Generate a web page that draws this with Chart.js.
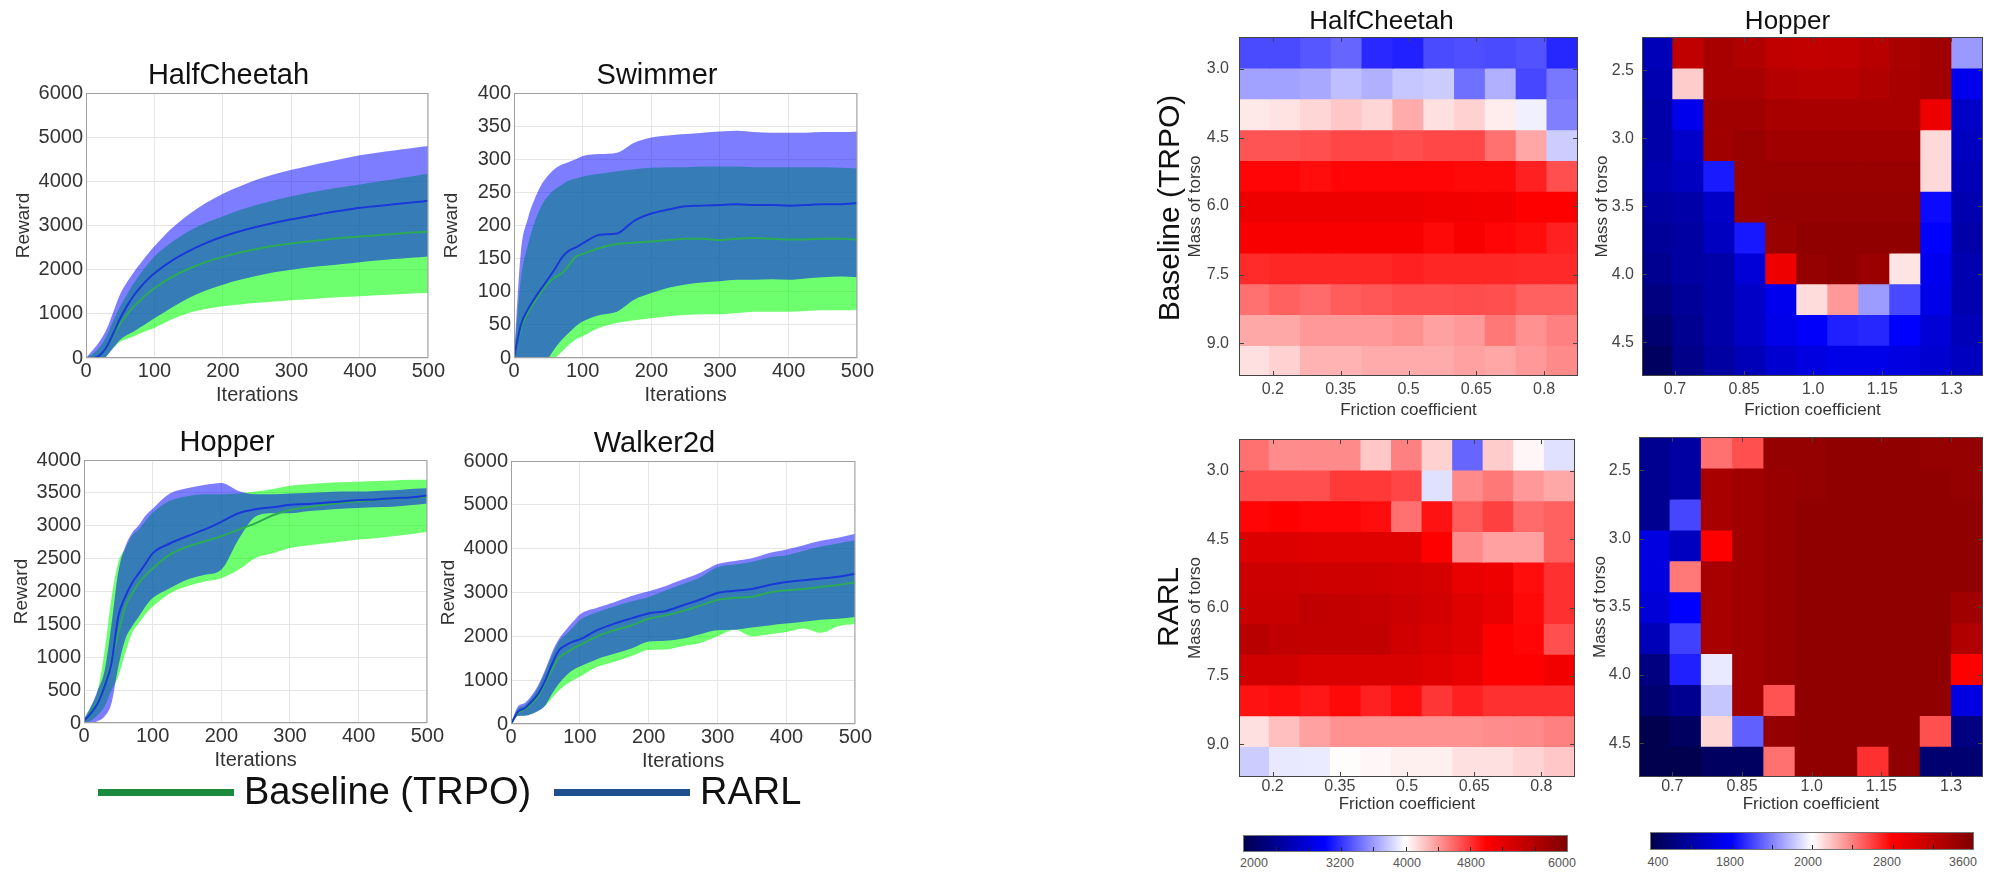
<!DOCTYPE html>
<html>
<head>
<meta charset="utf-8">
<script src="https://cdn.jsdelivr.net/npm/chart.js@4/dist/chart.umd.min.js"></script>
<style>
  body { margin: 0; background: #fff; width: 1995px; height: 873px; position: relative; overflow: hidden;
         font-family: "Liberation Sans", Arial, Helvetica, sans-serif; }
  canvas { position: absolute; }
  .lg-line { position: absolute; height: 7px; }
  .lg-text { position: absolute; font-size: 38px; line-height: 44px; color: #111; white-space: nowrap; }
  .side { position: absolute; font-size: 30px; color: #111; white-space: nowrap; transform: translate(-50%, -50%) rotate(-90deg); }
  .cbar { position: absolute; border: 1px solid #777; box-sizing: border-box;
          background: linear-gradient(to right, rgb(0,0,77) 0%, rgb(0,0,255) 25%, #fff 50%, rgb(255,0,0) 75%, rgb(128,0,0) 100%); }
  .cb-tick { position: absolute; bottom: 0; width: 1px; height: 4px; background: #222; }
  .cb-lab { position: absolute; font-size: 12.5px; color: #555; transform: translate(-50%, -50%); }
</style>
</head>
<body>

<canvas id="lcHalf" width="435" height="350" style="left:11px; top:58px"></canvas>
<canvas id="lcSwim" width="436" height="350" style="left:439px; top:58px"></canvas>
<canvas id="lcHop" width="436" height="348" style="left:9px; top:425px"></canvas>
<canvas id="lcWalk" width="437" height="348" style="left:436px; top:426px"></canvas>

<canvas id="hmHalfTrpo" width="393" height="415" style="left:1185px; top:6px"></canvas>
<canvas id="hmHopTrpo" width="391" height="415" style="left:1592px; top:6px"></canvas>
<canvas id="hmHalfRarl" width="390" height="396" style="left:1185px; top:419px"></canvas>
<canvas id="hmHopRarl" width="394" height="396" style="left:1589px; top:419px"></canvas>

<div class="lg-line" style="left:98px; top:789px; width:136px; background:#1b8a3c"></div>
<div class="lg-text" style="left:244px; top:769px">Baseline (TRPO)</div>
<div class="lg-line" style="left:554px; top:789px; width:136px; background:#1f4f8f"></div>
<div class="lg-text" style="left:700px; top:769px">RARL</div>

<div class="side" style="left:1169px; top:208px">Baseline (TRPO)</div>
<div class="side" style="left:1168px; top:607px">RARL</div>

<div class="cbar" id="cbHalf" style="left:1243px; top:835px; width:325px; height:17px"></div>
<div class="cbar" id="cbHop" style="left:1650px; top:832px; width:324px; height:18px"></div>
<div class="cb-lab" style="left:1254px; top:863px">2000</div>
<div class="cb-lab" style="left:1340px; top:863px">3200</div>
<div class="cb-lab" style="left:1407px; top:863px">4000</div>
<div class="cb-lab" style="left:1471px; top:863px">4800</div>
<div class="cb-lab" style="left:1562px; top:863px">6000</div>
<div class="cb-lab" style="left:1658px; top:862px">400</div>
<div class="cb-lab" style="left:1730px; top:862px">1800</div>
<div class="cb-lab" style="left:1808px; top:862px">2000</div>
<div class="cb-lab" style="left:1887px; top:862px">2800</div>
<div class="cb-lab" style="left:1963px; top:862px">3600</div>

<script>
// ---- learning curves (reward vs iterations) ----
const iterations = [0, 10, 20, 30, 40, 50, 60, 70, 80, 90, 100, 125, 150, 175, 200, 225, 250, 275, 300, 325, 350, 375, 400, 425, 450, 475, 500];
const iterTicks = [0, 100, 200, 300, 400, 500];

const halfTicks = [0, 1000, 2000, 3000, 4000, 5000, 6000];
const halfRarl = [0, 0, 60, 250, 560, 900, 1180, 1420, 1610, 1780, 1920, 2200, 2420, 2600, 2750, 2870, 2970, 3060, 3140, 3210, 3280, 3340, 3400, 3440, 3480, 3520, 3560];
const halfRarlHi = [0, 180, 380, 650, 1050, 1450, 1720, 1950, 2150, 2350, 2530, 2930, 3250, 3510, 3720, 3890, 4040, 4160, 4260, 4350, 4430, 4510, 4590, 4650, 4700, 4750, 4800];
const halfRarlLo = [0, -100, -100, 40, 230, 415, 520, 600, 700, 800, 900, 1140, 1360, 1530, 1660, 1770, 1860, 1940, 2000, 2050, 2090, 2130, 2170, 2210, 2240, 2270, 2300];
const halfTrpo = [0, 0, 60, 250, 520, 780, 990, 1170, 1320, 1460, 1580, 1830, 2020, 2170, 2290, 2390, 2470, 2540, 2590, 2640, 2680, 2720, 2750, 2780, 2810, 2840, 2860];
const halfTrpoHi = [0, 100, 250, 500, 850, 1170, 1450, 1700, 1920, 2120, 2300, 2620, 2870, 3060, 3210, 3350, 3470, 3570, 3660, 3740, 3810, 3870, 3930, 3990, 4050, 4110, 4170];
const halfTrpoLo = [0, -100, -100, 40, 230, 370, 430, 490, 560, 620, 680, 870, 1020, 1110, 1170, 1210, 1250, 1280, 1310, 1330, 1360, 1380, 1400, 1420, 1440, 1460, 1470];

const swimTicks = [0, 50, 100, 150, 200, 250, 300, 350, 400];
const swimRarl = [0, 50, 73, 90, 105, 120, 135, 152, 162, 167, 173, 186, 188, 207, 218, 224, 229, 230, 231, 232, 231, 231, 230, 231, 232, 232, 234];
const swimRarlHi = [0, 160, 210, 240, 262, 276, 286, 292, 296, 300, 305, 308, 310, 325, 333, 336, 338, 340, 342, 343, 341, 340, 340, 340, 341, 341, 342];
const swimRarlLo = [-30, -30, -30, -20, -10, 0, 15, 28, 38, 48, 55, 65, 70, 88, 98, 106, 111, 114, 116, 118, 118, 119, 118, 120, 122, 123, 122];
const swimTrpo = [0, 45, 68, 85, 100, 113, 122, 128, 140, 153, 157, 166, 172, 174, 176, 178, 180, 180, 178, 180, 181, 180, 179, 179, 180, 180, 179];
const swimTrpoHi = [0, 120, 170, 205, 230, 245, 255, 262, 268, 271, 274, 278, 282, 285, 287, 288, 288, 289, 289, 289, 288, 288, 288, 288, 288, 287, 286];
const swimTrpoLo = [-30, -30, -30, -30, -20, -10, 0, 10, 20, 28, 33, 46, 53, 57, 60, 63, 65, 66, 66, 68, 70, 70, 70, 71, 72, 72, 73];

const hopTicks = [0, 500, 1000, 1500, 2000, 2500, 3000, 3500, 4000];
const hopRarl = [30, 150, 300, 560, 910, 1620, 1920, 2130, 2280, 2430, 2580, 2730, 2840, 2940, 3060, 3190, 3250, 3280, 3320, 3330, 3350, 3370, 3390, 3400, 3420, 3430, 3460];
const hopRarlHi = [60, 250, 500, 800, 1500, 2300, 2680, 2890, 3010, 3160, 3260, 3490, 3570, 3620, 3650, 3530, 3480, 3480, 3490, 3500, 3510, 3520, 3520, 3530, 3540, 3560, 3570];
const hopRarlLo = [0, 0, 30, 100, 300, 860, 1270, 1470, 1620, 1780, 1900, 2050, 2180, 2250, 2330, 2790, 3140, 3190, 3190, 3220, 3240, 3260, 3270, 3280, 3290, 3310, 3340];
const hopTrpo = [30, 170, 330, 600, 950, 1370, 1770, 1970, 2130, 2250, 2350, 2560, 2680, 2760, 2840, 2940, 3040, 3160, 3240, 3280, 3320, 3350, 3370, 3390, 3420, 3430, 3440];
const hopTrpoHi = [60, 250, 500, 1100, 1900, 2450, 2650, 2850, 2950, 3080, 3200, 3380, 3450, 3480, 3480, 3490, 3520, 3560, 3610, 3630, 3650, 3660, 3670, 3680, 3690, 3700, 3700];
const hopTrpoLo = [0, 30, 120, 250, 500, 710, 1060, 1370, 1520, 1660, 1770, 1970, 2080, 2150, 2200, 2330, 2510, 2580, 2660, 2700, 2730, 2760, 2790, 2810, 2840, 2870, 2910];

const walkTicks = [0, 1000, 2000, 3000, 4000, 5000, 6000];
const walkRarl = [0, 280, 360, 510, 700, 1000, 1380, 1690, 1800, 1880, 1930, 2140, 2290, 2410, 2520, 2580, 2710, 2840, 2990, 3040, 3080, 3170, 3240, 3280, 3320, 3360, 3430];
const walkRarlHi = [0, 400, 480, 650, 900, 1250, 1650, 1950, 2150, 2330, 2500, 2650, 2780, 2920, 3030, 3150, 3300, 3450, 3650, 3720, 3780, 3900, 3980, 4080, 4180, 4250, 4340];
const walkRarlLo = [0, 180, 190, 230, 300, 430, 700, 930, 1100, 1230, 1310, 1480, 1600, 1720, 1880, 1900, 1950, 2050, 2140, 2150, 2200, 2250, 2290, 2330, 2380, 2400, 2440];
const walkTrpo = [0, 250, 330, 470, 650, 950, 1250, 1520, 1620, 1720, 1800, 2000, 2140, 2250, 2400, 2480, 2580, 2700, 2830, 2880, 2900, 3000, 3050, 3080, 3130, 3170, 3230];
const walkTrpoHi = [0, 350, 430, 600, 850, 1200, 1580, 1900, 2050, 2200, 2370, 2550, 2680, 2800, 2900, 3050, 3200, 3350, 3580, 3640, 3700, 3800, 3850, 3950, 4050, 4120, 4190];
const walkTrpoLo = [0, 180, 190, 230, 300, 420, 600, 770, 900, 1000, 1080, 1300, 1420, 1550, 1690, 1700, 1780, 1850, 2000, 2150, 2000, 2050, 2100, 2180, 2080, 2230, 2280];

// ---- robustness heatmaps (rows = mass of torso, columns = friction coefficient) ----
const halfFriction = [0.1591, 0.2273, 0.2955, 0.3636, 0.4318, 0.5000, 0.5682, 0.6364, 0.7045, 0.7727, 0.8409];
const halfMass = [2.6373, 3.3118, 3.9864, 4.6609, 5.3355, 6.0100, 6.6846, 7.3591, 8.0337, 8.7082, 9.3828];
const halfXTicks = [0.2, 0.35, 0.5, 0.65, 0.8];
const halfXLabels = ['0.2', '0.35', '0.5', '0.65', '0.8'];
const halfYTicks = [3.0, 4.5, 6.0, 7.5, 9.0];
const halfYLabels = ['3.0', '4.5', '6.0', '7.5', '9.0'];
const halfRange = [2000, 6000];

const halfTrpoGrid = [
  [3290, 3290, 3340, 3400, 3160, 3130, 3290, 3310, 3290, 3320, 3150],
  [3630, 3630, 3660, 3750, 3690, 3780, 3800, 3440, 3690, 3280, 3470],
  [4090, 4110, 4160, 4220, 4160, 4330, 4120, 4180, 4070, 3940, 3500],
  [4670, 4670, 4690, 4720, 4720, 4700, 4720, 4720, 4560, 4350, 3800],
  [4980, 4980, 4950, 4980, 4980, 4980, 4980, 4970, 4970, 4870, 4690],
  [5130, 5130, 5130, 5130, 5130, 5130, 5100, 5100, 5080, 5000, 5000],
  [5050, 5050, 5050, 5050, 5050, 5050, 4970, 5050, 4980, 4950, 4870],
  [4830, 4850, 4850, 4850, 4850, 4870, 4850, 4850, 4850, 4840, 4840],
  [4560, 4620, 4580, 4640, 4660, 4690, 4690, 4700, 4690, 4620, 4620],
  [4340, 4340, 4400, 4400, 4400, 4430, 4370, 4400, 4530, 4430, 4500],
  [4120, 4180, 4300, 4300, 4330, 4330, 4330, 4370, 4350, 4400, 4460]
];
const halfRarlGrid = [
  [4560, 4450, 4460, 4460, 4220, 4500, 4180, 3400, 4200, 4030, 3880],
  [4690, 4690, 4690, 4780, 4780, 4730, 3880, 4460, 4530, 4400, 4340],
  [4980, 5000, 4980, 4980, 4950, 4560, 4930, 4640, 4750, 4580, 4620],
  [5270, 5270, 5250, 5250, 5250, 5250, 5000, 4460, 4370, 4370, 4620],
  [5400, 5400, 5380, 5380, 5380, 5350, 5330, 5170, 5130, 4950, 4810],
  [5430, 5430, 5500, 5470, 5450, 5400, 5350, 5250, 5170, 4970, 4810],
  [5560, 5500, 5470, 5470, 5470, 5370, 5300, 5250, 5000, 4980, 4690],
  [5370, 5370, 5300, 5300, 5300, 5300, 5250, 5170, 5000, 5000, 5100],
  [4930, 4950, 4910, 4970, 4870, 4950, 4790, 4870, 4810, 4810, 4810],
  [4120, 4250, 4370, 4430, 4430, 4430, 4430, 4430, 4450, 4460, 4500],
  [3800, 3910, 3920, 4010, 4030, 4060, 4060, 4120, 4120, 4170, 4220]
];

const hopFriction = [0.6621, 0.7294, 0.7967, 0.8640, 0.9312, 0.9985, 1.0658, 1.1330, 1.2003, 1.2676, 1.3349];
const hopMass = [2.3679, 2.5946, 2.8213, 3.0481, 3.2748, 3.5015, 3.7283, 3.9550, 4.1817, 4.4084, 4.6352];
const hopXTicks = [0.7, 0.85, 1.0, 1.15, 1.3];
const hopXLabels = ['0.7', '0.85', '1.0', '1.15', '1.3'];
const hopYTicks = [2.5, 3.0, 3.5, 4.0, 4.5];
const hopYLabels = ['2.5', '3.0', '3.5', '4.0', '4.5'];
const hopRange = [400, 3600];

const hopTrpoGrid = [
  [880, 3200, 3350, 3300, 3200, 3180, 3200, 3250, 3340, 3400, 1680],
  [845, 2160, 3350, 3350, 3270, 3250, 3250, 3300, 3350, 3400, 1120],
  [810, 1120, 3400, 3400, 3350, 3350, 3350, 3350, 3350, 2900, 950],
  [810, 960, 3400, 3440, 3400, 3400, 3400, 3400, 3400, 2120, 920],
  [845, 920, 1280, 3440, 3440, 3440, 3440, 3440, 3440, 2120, 880],
  [780, 810, 950, 3440, 3470, 3470, 3470, 3470, 3470, 1230, 845],
  [740, 780, 920, 1275, 3440, 3490, 3490, 3500, 3500, 1200, 810],
  [700, 780, 810, 1020, 2900, 3470, 3500, 3430, 2085, 1130, 845],
  [630, 740, 810, 950, 1130, 2110, 2320, 1690, 1430, 1100, 845],
  [560, 700, 810, 950, 1100, 1180, 1300, 1320, 1200, 1020, 880],
  [490, 670, 780, 880, 990, 1060, 1100, 1100, 1060, 990, 920]
];
const hopRarlGrid = [
  [700, 780, 2450, 2550, 3470, 3470, 3490, 3490, 3490, 3470, 3470],
  [700, 780, 3350, 3400, 3450, 3470, 3490, 3490, 3490, 3490, 3470],
  [700, 1420, 3350, 3400, 3450, 3490, 3500, 3500, 3500, 3500, 3490],
  [1060, 920, 2800, 3400, 3450, 3490, 3500, 3500, 3500, 3500, 3490],
  [1060, 2420, 3350, 3400, 3450, 3490, 3500, 3500, 3500, 3500, 3490],
  [1020, 1200, 3350, 3400, 3450, 3490, 3500, 3500, 3500, 3500, 3400],
  [880, 1400, 3350, 3400, 3450, 3490, 3500, 3500, 3500, 3500, 3300],
  [630, 1300, 1930, 3400, 3450, 3490, 3500, 3500, 3500, 3500, 2800],
  [560, 700, 1820, 3400, 2540, 3490, 3500, 3500, 3500, 3500, 1060],
  [410, 490, 2130, 1500, 3470, 3490, 3500, 3500, 3500, 2550, 630],
  [410, 410, 490, 490, 2450, 3500, 3500, 2650, 3500, 560, 560]
];

Chart.defaults.font.family = '"Liberation Sans", Arial, Helvetica, sans-serif';

// seismic colour map
function seismic(t) {
  t = Math.min(1, Math.max(0, t));
  const st = [[0, 0, 0, 77], [0.25, 0, 0, 255], [0.5, 255, 255, 255], [0.75, 255, 0, 0], [1, 128, 0, 0]];
  for (let k = 1; k < st.length; k++) {
    if (t <= st[k][0]) {
      const a = st[k - 1], b = st[k], f = (t - a[0]) / (b[0] - a[0]);
      const c = i => Math.round(a[i] + (b[i] - a[i]) * f);
      return `rgb(${c(1)},${c(2)},${c(3)})`;
    }
  }
  return 'rgb(128,0,0)';
}

// box around the plot area (+ inward ticks for the heatmaps)
const frame = {
  id: 'frame',
  afterDatasetsDraw(chart, args, opts) {
    const { ctx, chartArea: a, scales } = chart;
    ctx.save();
    ctx.strokeStyle = opts.color;
    ctx.lineWidth = 1;
    ctx.strokeRect(a.left + 0.5, a.top + 0.5, a.width - 1, a.height - 1);
    if (opts.ticks) {
      ctx.beginPath();
      scales.x.ticks.forEach(t => {
        const px = Math.round(scales.x.getPixelForValue(t.value)) + 0.5;
        ctx.moveTo(px, a.bottom); ctx.lineTo(px, a.bottom - 5);
        ctx.moveTo(px, a.top); ctx.lineTo(px, a.top + 5);
      });
      scales.y.ticks.forEach(t => {
        const py = Math.round(scales.y.getPixelForValue(t.value)) + 0.5;
        ctx.moveTo(a.left, py); ctx.lineTo(a.left + 5, py);
        ctx.moveTo(a.right, py); ctx.lineTo(a.right - 5, py);
      });
      ctx.stroke();
    }
    ctx.restore();
  }
};

function lineChart(id, title, yTicks, d) {
  const pts = arr => iterations.map((x, i) => ({ x: x, y: arr[i] }));
  const band = (arr, fill, color, order) => ({
    data: pts(arr), fill: fill, backgroundColor: color,
    borderColor: 'rgba(0,0,0,0)', borderWidth: 0, order: order
  });
  new Chart(document.getElementById(id), {
    type: 'line',
    data: {
      datasets: [
        { label: 'RARL', data: pts(d.rarl), borderColor: '#1838d8', borderWidth: 2, fill: false, order: 0 },
        { label: 'Baseline (TRPO)', data: pts(d.trpo), borderColor: '#2caa55', borderWidth: 2, fill: false, order: 1 },
        band(d.rarlHi, '+1', 'rgba(0,0,255,0.51)', 2),
        band(d.rarlLo, false, 'rgba(0,0,0,0)', 2),
        band(d.trpoHi, '+1', 'rgba(0,255,0,0.57)', 3),
        band(d.trpoLo, false, 'rgba(0,0,0,0)', 3)
      ]
    },
    options: {
      responsive: false,
      animation: false,
      layout: { padding: 0 },
      elements: { point: { radius: 0 }, line: { cubicInterpolationMode: 'monotone' } },
      plugins: {
        legend: { display: false },
        tooltip: { enabled: false },
        title: { display: true, text: title, color: '#111', padding: 0,
                 font: { size: 29, weight: 'normal', lineHeight: '35px' } },
        frame: { color: '#a0a0a0' }
      },
      scales: {
        x: {
          type: 'linear', min: 0, max: 500,
          afterBuildTicks: s => { s.ticks = iterTicks.map(v => ({ value: v })); },
          afterFit: s => { s.height = 50; },
          ticks: { color: '#333', padding: 1, maxRotation: 0, autoSkip: false,
                   font: { size: 20, lineHeight: '24px' }, callback: v => String(v) },
          grid: { color: '#e6e6e6', drawTicks: false },
          border: { display: false },
          title: { display: true, text: 'Iterations', color: '#333',
                   font: { size: 20, lineHeight: '24px' }, padding: { top: 0, bottom: 1 } }
        },
        y: {
          min: yTicks[0], max: yTicks[yTicks.length - 1],
          afterBuildTicks: s => { s.ticks = yTicks.map(v => ({ value: v })); },
          afterFit: s => { s.width = 75; },
          ticks: { color: '#333', padding: 3, autoSkip: false,
                   font: { size: 20, lineHeight: '24px' }, callback: v => String(v) },
          grid: { color: '#e6e6e6', drawTicks: false },
          border: { display: false },
          title: { display: true, text: 'Reward', color: '#333',
                   font: { size: 19, lineHeight: '22px' }, padding: { top: 2, bottom: 0 } }
        }
      }
    },
    plugins: [frame]
  });
}

function heatChart(id, title, friction, mass, grid, range, xTicks, xLabels, yTicks, yLabels, lay) {
  const fx = friction[1] - friction[0];
  const my = mass[1] - mass[0];
  const datasets = grid.map((row, i) => ({
    data: row.map((v, j) => ({ x: friction[j], y: [mass[i] - my / 2, mass[i] + my / 2] })),
    backgroundColor: row.map(v => seismic((v - range[0]) / (range[1] - range[0]))),
    borderWidth: 0, inflateAmount: 0.7, barPercentage: 1, categoryPercentage: 1, grouped: false, clip: 0
  }));
  new Chart(document.getElementById(id), {
    type: 'bar',
    data: { datasets: datasets },
    options: {
      responsive: false,
      animation: false,
      layout: { padding: 0 },
      plugins: {
        legend: { display: false },
        tooltip: { enabled: false },
        title: title ? { display: true, text: title, color: '#111', padding: 0,
                         font: { size: 26, weight: 'normal', lineHeight: '31px' } } : { display: false },
        frame: { color: '#444', ticks: true }
      },
      scales: {
        x: {
          type: 'linear', offset: false,
          min: friction[0] - fx / 2, max: friction[friction.length - 1] + fx / 2,
          afterBuildTicks: s => { s.ticks = xTicks.map(v => ({ value: v })); },
          afterFit: s => { s.height = lay.xh; },
          ticks: { color: '#444', padding: lay.xpad, maxRotation: 0, autoSkip: false,
                   font: { size: 16, lineHeight: '20px' }, callback: (v, i) => xLabels[i] },
          grid: { display: false, drawTicks: false, offset: false },
          border: { display: false },
          title: { display: true, text: 'Friction coefficient', color: '#333',
                   font: { size: 17, lineHeight: '20px' }, padding: { top: 0, bottom: 1 } }
        },
        y: {
          type: 'linear', reverse: true, beginAtZero: false,
          min: mass[0] - my / 2, max: mass[mass.length - 1] + my / 2,
          afterBuildTicks: s => { s.ticks = yTicks.map(v => ({ value: v })); },
          afterFit: s => { s.width = lay.yw; },
          ticks: { color: '#444', padding: lay.ypad, autoSkip: false,
                   font: { size: 16, lineHeight: '20px' }, callback: (v, i) => yLabels[i] },
          grid: { display: false, drawTicks: false },
          border: { display: false },
          title: { display: true, text: 'Mass of torso', color: '#333',
                   font: { size: 17, lineHeight: '20px' }, padding: { top: lay.ytp, bottom: 0 } }
        }
      }
    },
    plugins: [frame]
  });
}

lineChart('lcHalf', 'HalfCheetah', halfTicks,
  { rarl: halfRarl, rarlHi: halfRarlHi, rarlLo: halfRarlLo, trpo: halfTrpo, trpoHi: halfTrpoHi, trpoLo: halfTrpoLo });
lineChart('lcSwim', 'Swimmer', swimTicks,
  { rarl: swimRarl, rarlHi: swimRarlHi, rarlLo: swimRarlLo, trpo: swimTrpo, trpoHi: swimTrpoHi, trpoLo: swimTrpoLo });
lineChart('lcHop', 'Hopper', hopTicks,
  { rarl: hopRarl, rarlHi: hopRarlHi, rarlLo: hopRarlLo, trpo: hopTrpo, trpoHi: hopTrpoHi, trpoLo: hopTrpoLo });
lineChart('lcWalk', 'Walker2d', walkTicks,
  { rarl: walkRarl, rarlHi: walkRarlHi, rarlLo: walkRarlLo, trpo: walkTrpo, trpoHi: walkTrpoHi, trpoLo: walkTrpoLo });

heatChart('hmHalfTrpo', 'HalfCheetah', halfFriction, halfMass, halfTrpoGrid, halfRange,
  halfXTicks, halfXLabels, halfYTicks, halfYLabels, { xh: 45, xpad: 4, yw: 54, ypad: 10, ytp: 0 });
heatChart('hmHopTrpo', 'Hopper', hopFriction, hopMass, hopTrpoGrid, hopRange,
  hopXTicks, hopXLabels, hopYTicks, hopYLabels, { xh: 45, xpad: 4, yw: 50, ypad: 8, ytp: 0 });
heatChart('hmHalfRarl', null, halfFriction, halfMass, halfRarlGrid, halfRange,
  halfXTicks, halfXLabels, halfYTicks, halfYLabels, { xh: 38, xpad: 0, yw: 54, ypad: 10, ytp: 0 });
heatChart('hmHopRarl', null, hopFriction, hopMass, hopRarlGrid, hopRange,
  hopXTicks, hopXLabels, hopYTicks, hopYLabels, { xh: 38, xpad: 0, yw: 50, ypad: 8, ytp: 1 });

// colour-bar tick marks
[['cbHalf', 10], ['cbHop', 8]].forEach(([id, n]) => {
  const bar = document.getElementById(id);
  for (let k = 1; k < n; k++) {
    const t = document.createElement('div');
    t.className = 'cb-tick';
    t.style.left = (100 * k / n) + '%';
    bar.appendChild(t);
  }
});
</script>
</body>
</html>
